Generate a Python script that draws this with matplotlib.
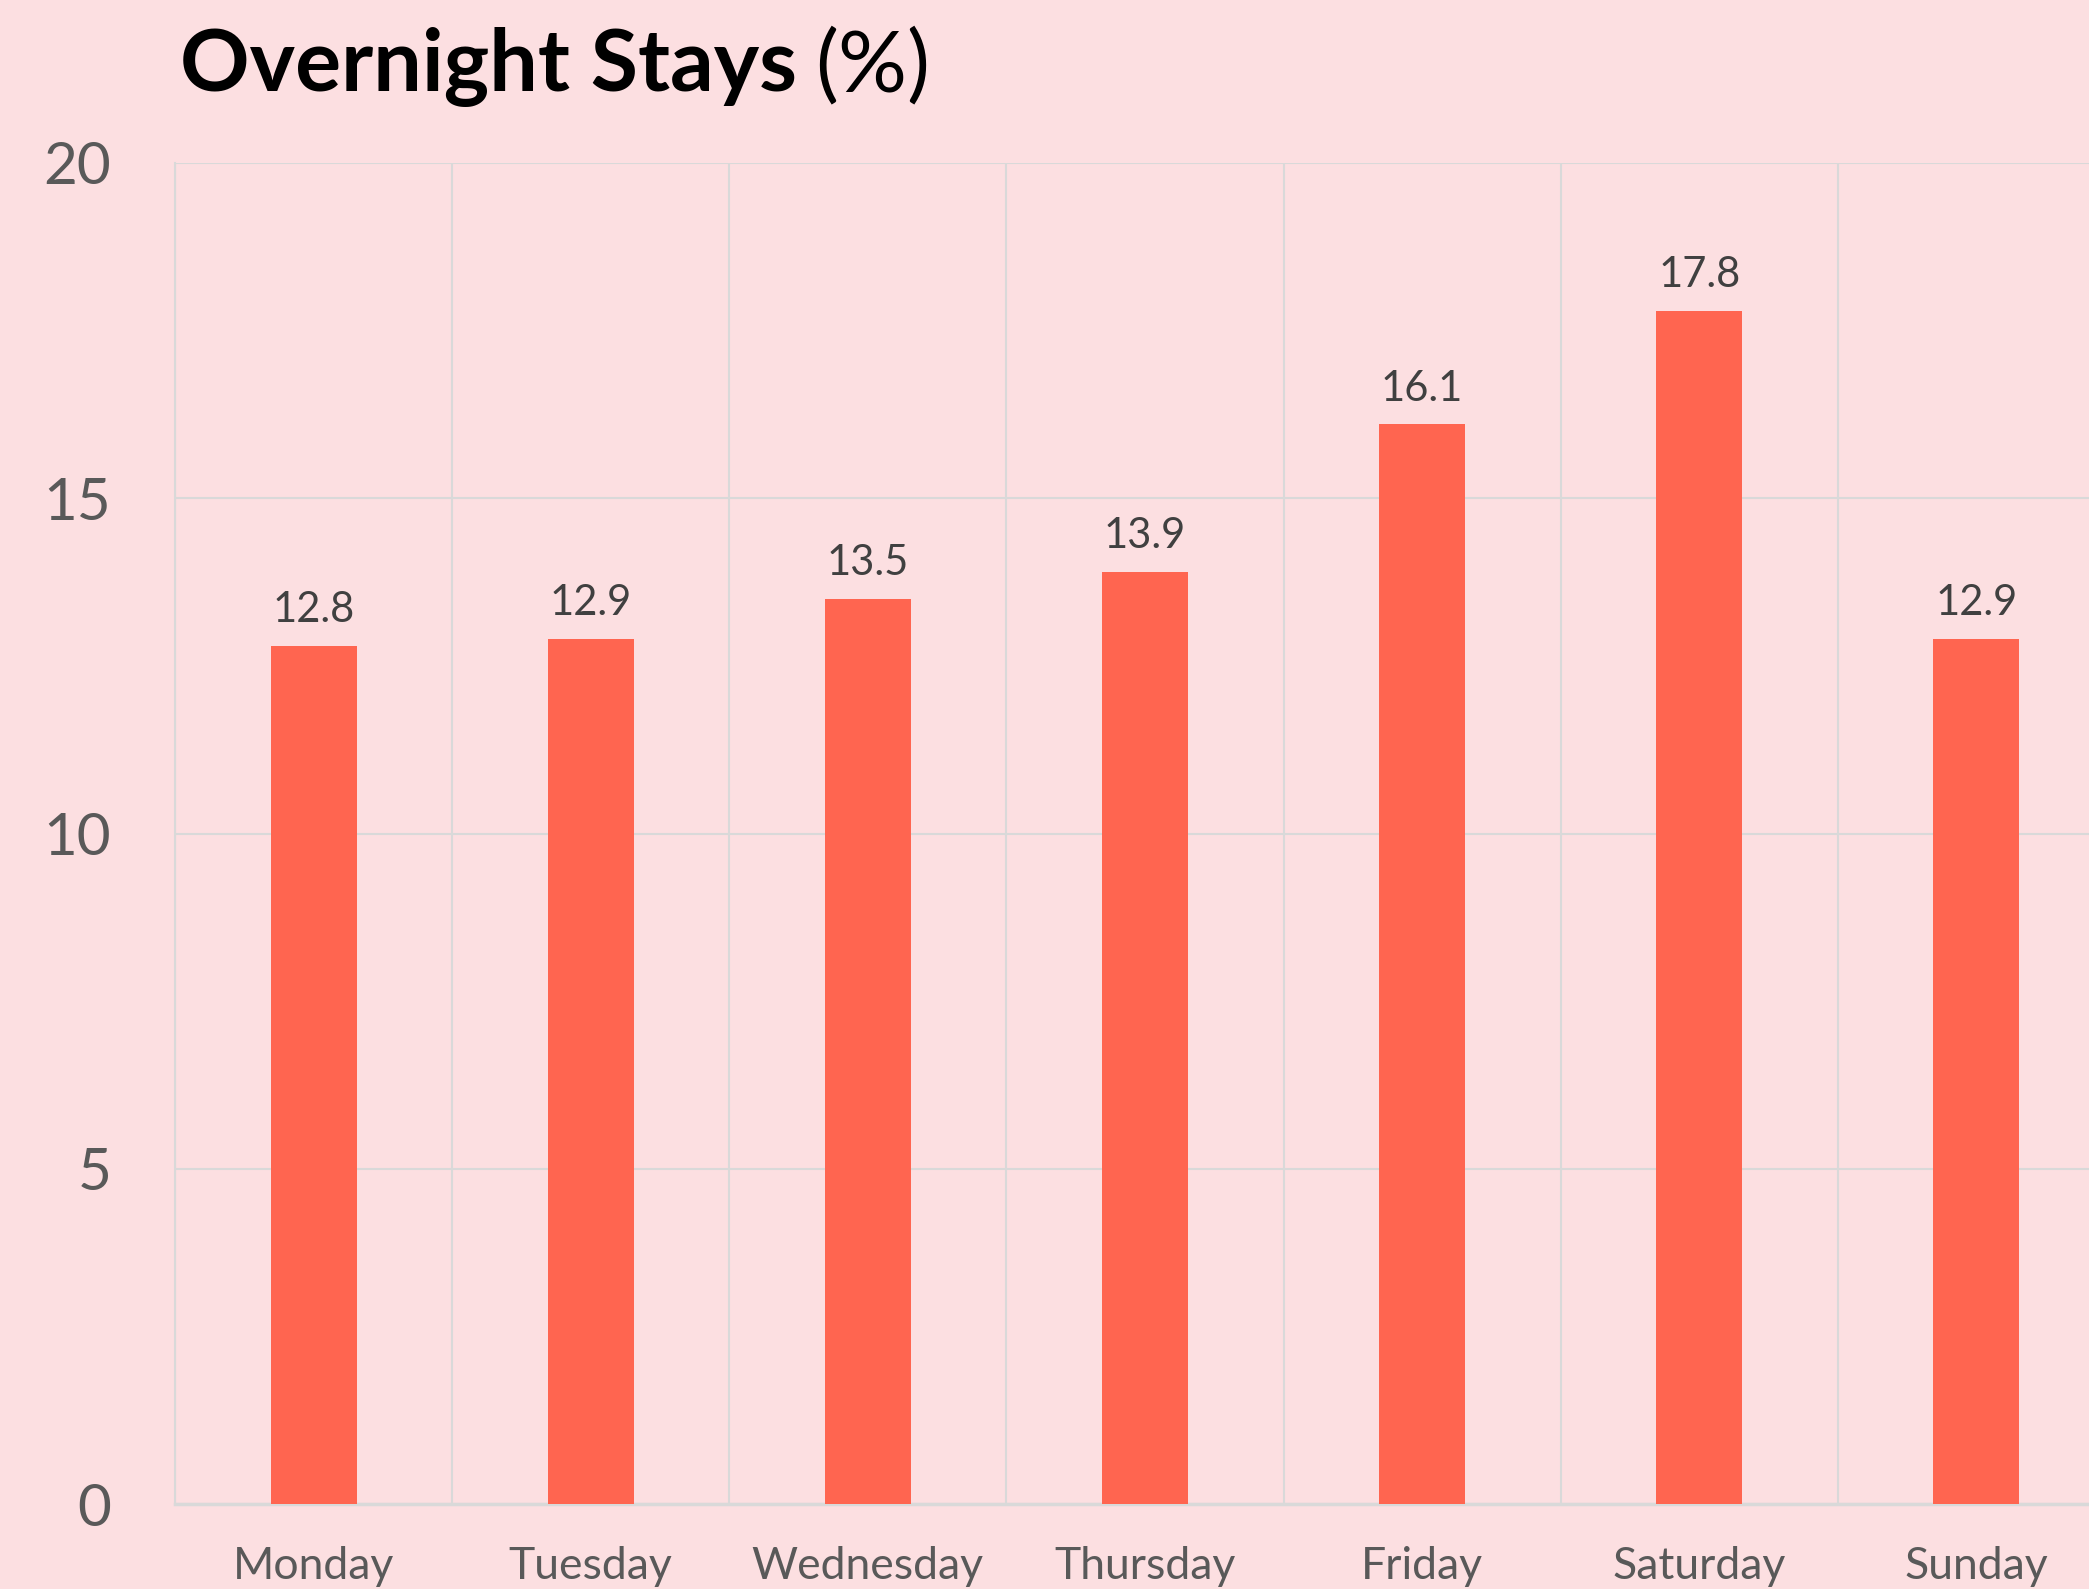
import matplotlib
matplotlib.use('Agg')
import matplotlib.pyplot as plt
import numpy as np

# data
days = ['Monday', 'Tuesday', 'Wednesday', 'Thursday', 'Friday', 'Saturday', 'Sunday']
stays = [12.8, 12.9, 13.5, 13.9, 16.1, 17.8, 12.9]
y_ticks = [0, 5, 10, 15, 20]

BG = '#FCDFE1'
BAR = '#FF6550'
GRID = '#D9D9D9'

plt.rcParams['font.family'] = ['Lato', 'DejaVu Sans']

fig = plt.figure(figsize=(20.89, 15.89), dpi=100, facecolor=BG)
ax = fig.add_axes([175 / 2089, 85 / 1589, 1940 / 2089, 1341 / 1589])
ax.set_facecolor(BG)

x = np.arange(len(days))
ax.bar(x, stays, width=0.31, color=BAR, zorder=3)

for xi, v in zip(x, stays):
    ax.annotate(f'{v}', (xi, v), xytext=(0, 17), textcoords='offset points',
                ha='center', va='baseline', fontsize=30, color='#404040')

ax.set_xlim(-0.5, len(days) - 0.5)
ax.set_ylim(0, 20)
ax.set_yticks(y_ticks)
ax.set_xticks(x)
ax.set_xticklabels(days)
ax.set_xticks(np.arange(-0.5, len(days)), minor=True)

ax.grid(axis='y', which='major', color=GRID, linewidth=1.5, zorder=0)
ax.grid(axis='x', which='minor', color=GRID, linewidth=1.5, zorder=0)
ax.tick_params(axis='both', which='both', length=0)
ax.tick_params(axis='y', labelsize=42, labelcolor='#595959', pad=46)
ax.tick_params(axis='x', labelsize=32, labelcolor='#595959', pad=30)

for side in ['top', 'right']:
    ax.spines[side].set_visible(False)
ax.spines['left'].set_color(GRID)
ax.spines['left'].set_linewidth(1.5)
ax.spines['bottom'].set_color('#D9D9D9')
ax.spines['bottom'].set_linewidth(2.5)

# title: bold words, regular unit
t1 = fig.text(180 / 2089, 1 - 91 / 1589, 'Overnight Stays', fontsize=62,
              fontweight='bold', color='black', ha='left', va='baseline')
fig.canvas.draw()
bb = t1.get_window_extent()
fig.text(bb.x1 / 2089 + 18 / 2089, 1 - 91 / 1589, '(%)', fontsize=62,
         color='black', ha='left', va='baseline')

fig.savefig('out.png', dpi=100, facecolor=BG)
